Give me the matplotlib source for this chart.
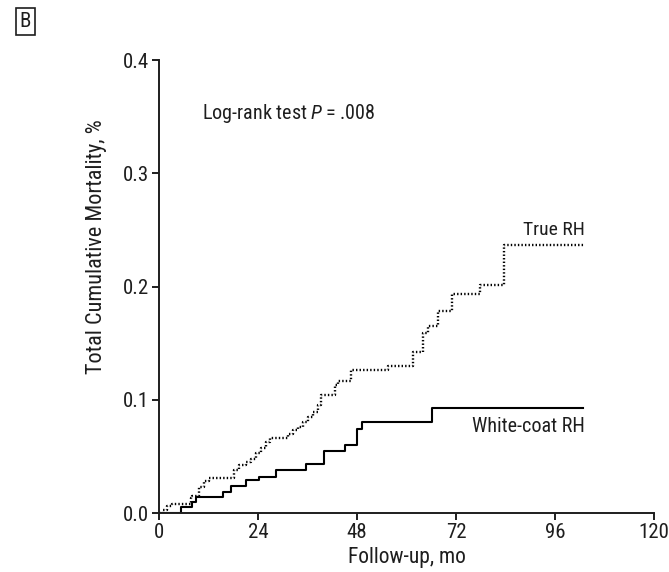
import numpy as np
import matplotlib.pyplot as plt

# step curves (months, cumulative mortality)
true_t = [0, 1, 2, 3.2, 7.7, 8.1, 9.7, 11, 12.2, 18.2, 19.5, 21.1, 22.3, 23.5, 24.7, 26, 26.8,
          31.2, 32.4, 33.7, 34.9, 36.1, 37.3, 38.5, 39.3, 42.6, 43.4, 46.5, 55.4, 61.6, 64,
          65.3, 67.7, 71, 77.8, 83.5, 103.3]
true_y = [0, 0.003, 0.006, 0.008, 0.013, 0.015, 0.023, 0.028, 0.031, 0.038, 0.042, 0.045, 0.048,
          0.053, 0.057, 0.063, 0.066, 0.070, 0.073, 0.076, 0.080, 0.085, 0.089, 0.095, 0.104,
          0.113, 0.117, 0.126, 0.130, 0.142, 0.159, 0.165, 0.178, 0.193, 0.201, 0.237, 0.237]

white_t = [0, 5.3, 8.1, 8.9, 15.4, 17.4, 21.1, 24.3, 28.4, 35.7, 40.1, 45, 47.9, 49.1, 66.1, 102.8]
white_y = [0, 0.005, 0.010, 0.014, 0.019, 0.024, 0.029, 0.032, 0.038, 0.043, 0.055, 0.060,
           0.074, 0.080, 0.093, 0.093]

xticks = [0, 24, 48, 72, 96, 120]
yticks = [0.0, 0.1, 0.2, 0.3, 0.4]

plt.rcParams['font.family'] = ['Roboto Condensed', 'Liberation Sans', 'DejaVu Sans']
plt.rcParams['font.stretch'] = 'condensed'
plt.rcParams['mathtext.fontset'] = 'custom'
plt.rcParams['mathtext.it'] = 'Roboto Condensed:italic'

ink = '#1e1e1e'

fig = plt.figure(figsize=(6.69, 5.72), dpi=100)
ax = fig.add_axes([0.2377, 0.1031, 0.74, 0.792])

ax.step(true_t, true_y, where='post', color='black', lw=1.7, ls=(0, (0.6, 0.9)))
ax.step(white_t, white_y, where='post', color='black', lw=1.5)

ax.set_xlim(0, 120)
ax.set_ylim(0, 0.4)
ax.set_xticks(xticks)
ax.set_yticks(yticks)
ax.set_yticklabels(['%.1f' % v for v in yticks])
ax.spines['top'].set_visible(False)
ax.spines['right'].set_visible(False)
for s in ['left', 'bottom']:
    ax.spines[s].set_linewidth(1.4)
    ax.spines[s].set_color(ink)
ax.tick_params(direction='out', length=5, width=1.4, labelsize=15, colors=ink, pad=2)

ax.set_xlabel('Follow-up, mo', fontsize=15.5, color=ink, labelpad=4)
ax.set_ylabel('Total Cumulative Mortality, %', fontsize=16, color=ink)
ax.yaxis.set_label_coords(-0.105, 0.587)

ax.text(10.4, 0.353, 'Log-rank test $P$\u2009=\u2009.008', fontsize=14.5, va='center', color=ink)
ax.text(103.3, 0.25, 'True RH', fontsize=14, ha='right', va='center', color=ink)
ax.text(103.3, 0.076, 'White-coat RH', fontsize=14.5, ha='right', va='center', color=ink)

fig.text(0.038, 0.962, 'B', fontsize=15, va='center', ha='center', color=ink,
         bbox=dict(boxstyle='square,pad=0.2', fc='white', ec=ink, lw=1.2))

plt.savefig('out.png', dpi=100)
